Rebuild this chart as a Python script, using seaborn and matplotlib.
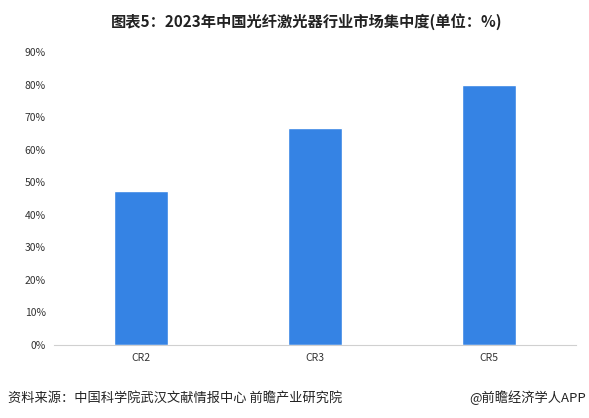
import matplotlib
matplotlib.use('Agg')
import matplotlib.pyplot as plt
import seaborn as sns
import pandas as pd
from matplotlib.ticker import FuncFormatter

sns.set_theme(style='white')
plt.rcParams['font.family'] = ['Noto Sans CJK SC', 'DejaVu Sans']

categories = ['CR2', 'CR3', 'CR5']
values = [47.2, 66.7, 80.0]
title = '图表5：2023年中国光纤激光器行业市场集中度(单位：%)'
source = '资料来源：中国科学院武汉文献情报中心 前瞻产业研究院'
brand = '@前瞻经济学人APP'

df = pd.DataFrame({'cat': categories, 'val': values})

fig = plt.figure(figsize=(5.89, 4.18), dpi=100)
ax = fig.add_axes([54 / 589, 1 - 345 / 418, 522 / 589, (345 - 52) / 418 * 100 / 90])
sns.barplot(data=df, x='cat', y='val', color='#3583E4', saturation=1, width=0.316, ax=ax)
ax.set_ylim(0, 100)
ax.set_xlim(-0.5, 2.5)
ax.set_yticks(range(0, 91, 10))
ax.yaxis.set_major_formatter(FuncFormatter(lambda v, p: f'{int(v)}%'))
ax.tick_params(axis='both', labelsize=7.5, colors='#333333', length=0, pad=6)
ax.set_xlabel('')
ax.set_ylabel('')
for s in ['top', 'right', 'left']:
    ax.spines[s].set_visible(False)
ax.spines['bottom'].set_color('#D0D0D0')
ax.spines['bottom'].set_linewidth(0.8)

fig.text(0.52, 1 - 22 / 418, title, ha='center', va='center', fontsize=11, fontweight='bold', color='#222222')
fig.text(8 / 589, 1 - 398 / 418, source, ha='left', va='center', fontsize=9.5, color='#222222')
fig.text(586 / 589, 1 - 398 / 418, brand, ha='right', va='center', fontsize=9.5, color='#222222')

fig.savefig('out.png', dpi=100)
